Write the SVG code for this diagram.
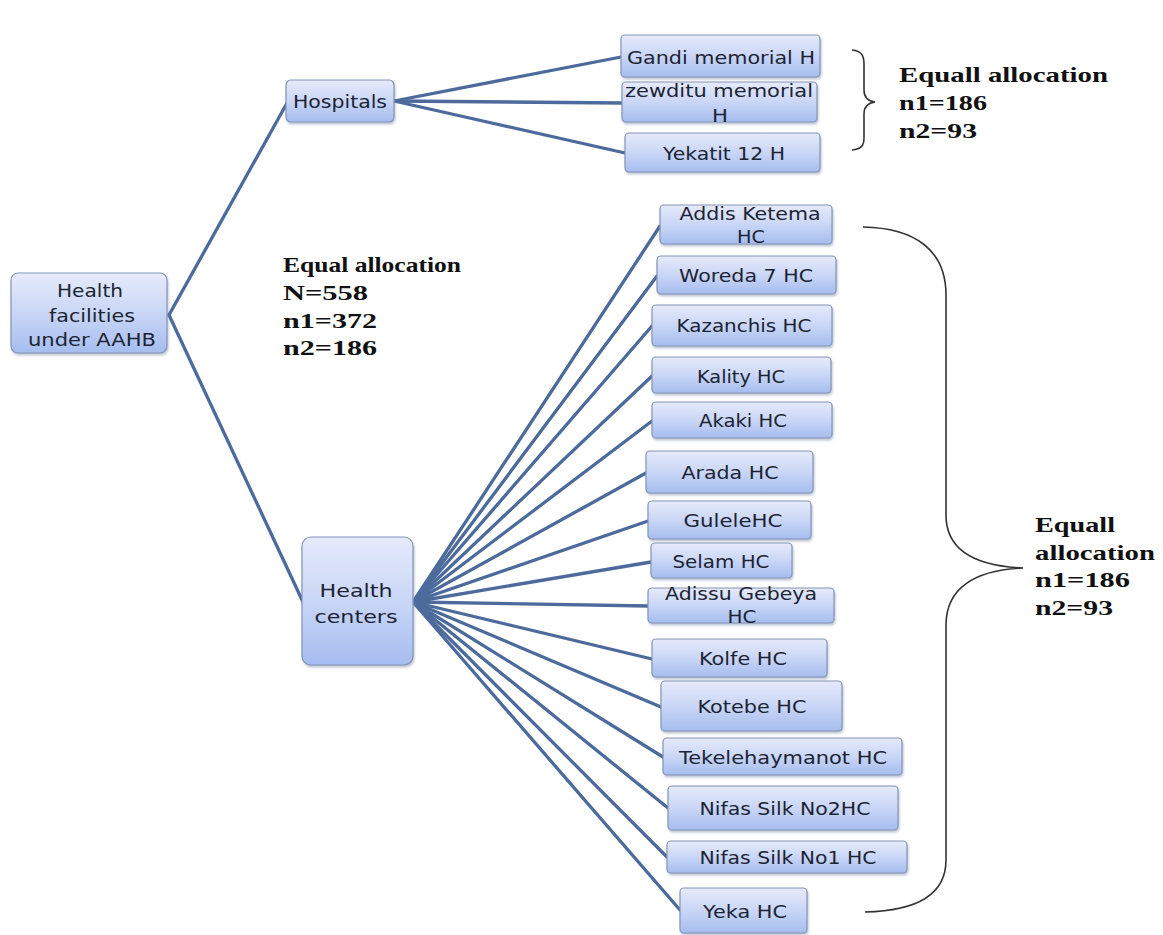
<svg xmlns="http://www.w3.org/2000/svg" width="1163" height="935" viewBox="0 0 1163 935">
<defs>
<linearGradient id="g" x1="0" y1="0" x2="0" y2="1">
<stop offset="0" stop-color="#e6ebfb"/>
<stop offset="0.5" stop-color="#c9d6f6"/>
<stop offset="1" stop-color="#a6bdf0"/>
</linearGradient>
<filter id="sh" x="-10%" y="-10%" width="125%" height="135%">
<feDropShadow dx="1" dy="2" stdDeviation="1.2" flood-color="#7080a0" flood-opacity="0.45"/>
</filter>
</defs>
<style>
.box{fill:url(#g);stroke:#8494b4;stroke-width:1.2;filter:url(#sh)}
.t{font-family:"DejaVu Sans","Open Sans",sans-serif;font-size:17px;fill:#1c2433}
.c{fill:none;stroke:#4c6b9c;stroke-width:3.3;stroke-linecap:round}
.b{font-family:"Liberation Serif","Times New Roman",serif;font-weight:bold;font-size:22px;fill:#111}
.br{fill:none;stroke:#333;stroke-width:1.6}
</style>
<rect width="1163" height="935" fill="#ffffff"/>
<g id="connectors">
<line class="c" x1="169" y1="315" x2="287" y2="103"/>
<line class="c" x1="169" y1="315" x2="303" y2="602"/>
<line class="c" x1="394" y1="101" x2="621" y2="57"/>
<line class="c" x1="394" y1="101" x2="622" y2="103"/>
<line class="c" x1="394" y1="101" x2="625" y2="153"/>
<line class="c" x1="413" y1="602" x2="660" y2="226"/>
<line class="c" x1="413" y1="602" x2="657" y2="276"/>
<line class="c" x1="413" y1="602" x2="652" y2="326"/>
<line class="c" x1="413" y1="602" x2="652" y2="376"/>
<line class="c" x1="413" y1="602" x2="652" y2="421"/>
<line class="c" x1="413" y1="602" x2="646" y2="473"/>
<line class="c" x1="413" y1="602" x2="648" y2="521"/>
<line class="c" x1="413" y1="602" x2="651" y2="562"/>
<line class="c" x1="413" y1="602" x2="648" y2="606"/>
<line class="c" x1="413" y1="602" x2="652" y2="659"/>
<line class="c" x1="413" y1="602" x2="661" y2="707"/>
<line class="c" x1="413" y1="602" x2="663" y2="757"/>
<line class="c" x1="413" y1="602" x2="668" y2="808"/>
<line class="c" x1="413" y1="602" x2="667" y2="857"/>
<line class="c" x1="413" y1="602" x2="680" y2="910"/>
</g>
<g id="root">
<rect class="box" x="11" y="273" width="156" height="80" rx="7"/>
<text class="t" x="90" y="297" text-anchor="middle" textLength="66" lengthAdjust="spacingAndGlyphs">Health</text>
<text class="t" x="92" y="322" text-anchor="middle" textLength="86" lengthAdjust="spacingAndGlyphs">facilities</text>
<text class="t" x="92" y="346" text-anchor="middle" textLength="128" lengthAdjust="spacingAndGlyphs">under AAHB</text>
</g>
<g id="hospitals">
<rect class="box" x="286" y="80" width="108" height="42" rx="5"/>
<text class="t" x="340" y="108" text-anchor="middle" textLength="94" lengthAdjust="spacingAndGlyphs">Hospitals</text>
</g>
<g id="health-centers">
<rect class="box" x="302" y="537" width="111" height="128" rx="9"/>
<text class="t" x="356" y="597" text-anchor="middle" textLength="73" lengthAdjust="spacingAndGlyphs">Health</text>
<text class="t" x="356" y="623" text-anchor="middle" textLength="83" lengthAdjust="spacingAndGlyphs">centers</text>
</g>
<g id="gandi">
<rect class="box" x="621" y="35" width="199" height="42" rx="4"/>
<text class="t" x="721" y="64" text-anchor="middle" textLength="188" lengthAdjust="spacingAndGlyphs">Gandi memorial  H</text>
</g>
<g id="zewditu">
<rect class="box" x="622" y="82" width="195" height="40" rx="4"/>
<text class="t" x="719" y="97" text-anchor="middle" textLength="188" lengthAdjust="spacingAndGlyphs">zewditu memorial</text>
<text class="t" x="720" y="122" text-anchor="middle" textLength="16" lengthAdjust="spacingAndGlyphs">H</text>
</g>
<g id="yekatit">
<rect class="box" x="625" y="133" width="195" height="39" rx="4"/>
<text class="t" x="724" y="160" text-anchor="middle" textLength="122" lengthAdjust="spacingAndGlyphs">Yekatit 12 H</text>
</g>
<g id="addis-ketema">
<rect class="box" x="660" y="205" width="172" height="39" rx="4"/>
<text class="t" x="750" y="220" text-anchor="middle" textLength="141" lengthAdjust="spacingAndGlyphs">Addis Ketema</text>
<text class="t" x="751" y="243" text-anchor="middle" textLength="28" lengthAdjust="spacingAndGlyphs">HC</text>
</g>
<g id="woreda7">
<rect class="box" x="657" y="256" width="179" height="38" rx="4"/>
<text class="t" x="746" y="282" text-anchor="middle" textLength="134" lengthAdjust="spacingAndGlyphs">Woreda 7 HC</text>
</g>
<g id="kazanchis">
<rect class="box" x="652" y="305" width="180" height="41" rx="4"/>
<text class="t" x="744" y="332" text-anchor="middle" textLength="135" lengthAdjust="spacingAndGlyphs">Kazanchis HC</text>
</g>
<g id="kality">
<rect class="box" x="652" y="357" width="179" height="36" rx="4"/>
<text class="t" x="741" y="383" text-anchor="middle" textLength="88" lengthAdjust="spacingAndGlyphs">Kality HC</text>
</g>
<g id="akaki">
<rect class="box" x="652" y="402" width="180" height="36" rx="4"/>
<text class="t" x="743" y="427" text-anchor="middle" textLength="88" lengthAdjust="spacingAndGlyphs">Akaki HC</text>
</g>
<g id="arada">
<rect class="box" x="646" y="451" width="167" height="42" rx="4"/>
<text class="t" x="730" y="479" text-anchor="middle" textLength="97" lengthAdjust="spacingAndGlyphs">Arada HC</text>
</g>
<g id="gulele">
<rect class="box" x="648" y="501" width="163" height="38" rx="4"/>
<text class="t" x="733" y="527" text-anchor="middle" textLength="99" lengthAdjust="spacingAndGlyphs">GuleleHC</text>
</g>
<g id="selam">
<rect class="box" x="651" y="543" width="141" height="35" rx="4"/>
<text class="t" x="721" y="568" text-anchor="middle" textLength="97" lengthAdjust="spacingAndGlyphs">Selam HC</text>
</g>
<g id="adissu-gebeya">
<rect class="box" x="648" y="588" width="186" height="35" rx="4"/>
<text class="t" x="741" y="600" text-anchor="middle" textLength="152" lengthAdjust="spacingAndGlyphs">Adissu Gebeya</text>
<text class="t" x="742" y="623" text-anchor="middle" textLength="29" lengthAdjust="spacingAndGlyphs">HC</text>
</g>
<g id="kolfe">
<rect class="box" x="652" y="639" width="175" height="38" rx="4"/>
<text class="t" x="743" y="665" text-anchor="middle" textLength="88" lengthAdjust="spacingAndGlyphs">Kolfe HC</text>
</g>
<g id="kotebe">
<rect class="box" x="661" y="681" width="181" height="50" rx="4"/>
<text class="t" x="752" y="713" text-anchor="middle" textLength="109" lengthAdjust="spacingAndGlyphs">Kotebe HC</text>
</g>
<g id="tekelehaymanot">
<rect class="box" x="663" y="738" width="239" height="37" rx="4"/>
<text class="t" x="783" y="764" text-anchor="middle" textLength="208" lengthAdjust="spacingAndGlyphs">Tekelehaymanot HC</text>
</g>
<g id="nifas-silk-2">
<rect class="box" x="668" y="786" width="230" height="44" rx="4"/>
<text class="t" x="785" y="815" text-anchor="middle" textLength="171" lengthAdjust="spacingAndGlyphs">Nifas Silk No2HC</text>
</g>
<g id="nifas-silk-1">
<rect class="box" x="667" y="841" width="240" height="32" rx="4"/>
<text class="t" x="788" y="864" text-anchor="middle" textLength="177" lengthAdjust="spacingAndGlyphs">Nifas Silk No1 HC</text>
</g>
<g id="yeka">
<rect class="box" x="680" y="888" width="127" height="45" rx="4"/>
<text class="t" x="745" y="918" text-anchor="middle" textLength="84" lengthAdjust="spacingAndGlyphs">Yeka HC</text>
</g>
<g id="brace-hospitals">
<path class="br" d="M852,50 C862,51 864,56 864,64 L864,90 C864,97 867,101 875,102 C867,103 864,107 864,114 L864,138 C864,146 861,149 852,150"/>
</g>
<g id="label-hospitals">
<text class="b" x="899" y="82" font-size="21" textLength="209" lengthAdjust="spacingAndGlyphs">Equall allocation</text>
<text class="b" x="899" y="110" font-size="21" textLength="88" lengthAdjust="spacingAndGlyphs">n1=186</text>
<text class="b" x="899" y="138" font-size="21" textLength="78" lengthAdjust="spacingAndGlyphs">n2=93</text>
</g>
<g id="label-main">
<text class="b" x="283" y="272" textLength="178" lengthAdjust="spacingAndGlyphs">Equal allocation</text>
<text class="b" x="283" y="300" textLength="85" lengthAdjust="spacingAndGlyphs">N=558</text>
<text class="b" x="283" y="328" textLength="94" lengthAdjust="spacingAndGlyphs">n1=372</text>
<text class="b" x="283" y="355" textLength="94" lengthAdjust="spacingAndGlyphs">n2=186</text>
</g>
<g id="brace-centers">
<path class="br" d="M863,227 C915,228 946,250 946,295 L946,515 C946,550 975,566 1023,568 C975,570 946,588 946,625 L946,860 C946,898 910,911 865,912"/>
</g>
<g id="label-centers">
<text class="b" x="1035" y="532" textLength="80" lengthAdjust="spacingAndGlyphs">Equall</text>
<text class="b" x="1035" y="560" textLength="120" lengthAdjust="spacingAndGlyphs">allocation</text>
<text class="b" x="1035" y="587" textLength="95" lengthAdjust="spacingAndGlyphs">n1=186</text>
<text class="b" x="1035" y="615" textLength="78" lengthAdjust="spacingAndGlyphs">n2=93</text>
</g>
</svg>
